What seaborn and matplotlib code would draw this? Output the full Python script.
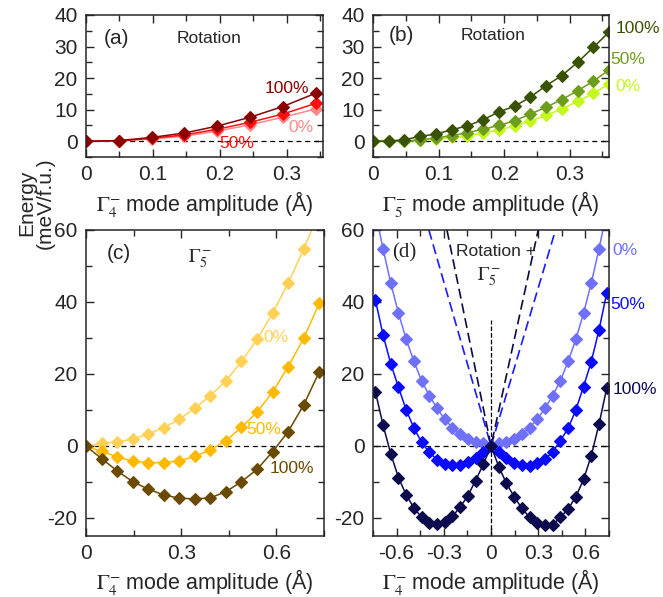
import numpy as np
import pandas as pd
import seaborn as sns
import matplotlib
matplotlib.use("Agg")
import matplotlib.pyplot as plt
from matplotlib.ticker import MultipleLocator, FuncFormatter

# ---- donnees ----
amp_a = [0, 0.049, 0.098, 0.147, 0.196, 0.245, 0.294, 0.343]
rot4_0 = [0, 0.1, 0.7, 1.6, 3.2, 5.2, 7.6, 10.2]
rot4_50 = [0, 0.1, 0.9, 2.0, 3.8, 6.0, 8.6, 12.0]
rot4_100 = [0, 0.2, 1.2, 2.6, 4.8, 7.6, 11.0, 15.2]

amp_b = [0, 0.024, 0.048, 0.072, 0.096, 0.12, 0.144, 0.168,
         0.192, 0.216, 0.24, 0.264, 0.288, 0.312, 0.336, 0.36]
rot5_0 = [0, 0, 0, 0.3, 0.7, 1.2, 1.8, 2.6, 3.6, 4.8, 6.4, 8.2, 10.2, 12.6, 15.2, 18.2]
rot5_50 = [0, 0, 0, 0.5, 1.0, 1.8, 2.7, 3.8, 5.0, 6.5, 8.6, 10.8, 13.2, 16.0, 19.0, 22.6]
rot5_100 = [0, 0, 0.5, 1.5, 2.3, 3.6, 4.9, 6.8, 9.3, 11.1, 14.0, 17.6, 20.8, 25.0, 29.7, 34.6]

amp_c = [0, 0.049, 0.098, 0.147, 0.196, 0.245, 0.294, 0.343,
         0.392, 0.441, 0.49, 0.539, 0.588, 0.637, 0.686, 0.735]
g5_0 = [0, 0.7, 1.2, 1.9, 3.3, 5.1, 7.4, 10.5, 14.0, 18.1, 23.5, 29.6, 36.9, 45.2, 54.7, 65.0]
g5_50 = [0, -1.5, -3.0, -4.2, -4.6, -4.6, -4.1, -2.9, -1.1, 1.5, 5.2, 9.4, 15.0, 22.0, 29.9, 39.6]
g5_100 = [0, -3.5, -6.9, -9.9, -12.0, -13.6, -14.5, -14.7, -14.4, -12.7, -9.9, -6.5, -1.6, 4.0, 11.4, 20.6]

# panneau (d) : cote negatif (du centre vers l'exterieur) et cote positif
mix_0_neg = [0, 0.7, 1.2, 1.9, 3.3, 5.1, 7.4, 10.5, 14.0, 18.1, 23.5, 29.6, 36.9, 45.2, 54.7, 65.0]
mix_0_pos = [0, 0.7, 1.2, 1.9, 3.3, 5.1, 7.4, 10.5, 14.0, 18.1, 23.5, 29.6, 36.9, 45.2, 54.7, 65.0]
mix_50_neg = [0, -1.6, -3.2, -4.4, -5.2, -5.3, -5.0, -3.8, -1.8, 1.0, 5.0, 10.0, 16.3, 22.8, 30.8, 40.6]
mix_50_pos = [0, -1.6, -3.4, -4.8, -5.3, -5.5, -4.8, -3.7, -1.6, 1.5, 4.9, 10.0, 16.5, 23.4, 32.2, 42.4]
mix_100_neg = [0, -5.1, -9.6, -13.8, -17.0, -19.5, -21.1, -21.6, -21.3, -19.8, -17.2, -13.6, -8.8, -2.2, 5.8, 15.1]
mix_100_pos = [0, -5.7, -10.4, -14.1, -17.3, -19.8, -21.5, -22.0, -21.9, -19.8, -17.5, -14.1, -9.3, -2.7, 6.0, 16.0]

dash_navy_x = [-0.28, 0, 0.30]
dash_navy_y = [60, 0, 60]
dash_blue_x = [-0.395, 0, 0.41]
dash_blue_y = [60, 0, 60]
vline_y = [-25, 35]

amp_d = [-a for a in reversed(amp_c[1:])] + amp_c


def both_sides(neg, pos):
    return list(reversed(neg[1:])) + pos


sns.set_style("ticks")
plt.rcParams['font.family'] = ['Liberation Sans', 'DejaVu Sans']
plt.rcParams['mathtext.fontset'] = 'stix'
plt.rcParams['axes.unicode_minus'] = False
plt.rcParams['axes.linewidth'] = 1.1

fig = plt.figure(figsize=(6.63, 5.97), dpi=100)
ax_a = fig.add_axes([0.1297, 0.7370, 0.3575, 0.2379])
ax_b = fig.add_axes([0.5626, 0.7370, 0.3560, 0.2379])
ax_c = fig.add_axes([0.1297, 0.1022, 0.3590, 0.5126])
ax_d = fig.add_axes([0.5626, 0.1022, 0.3560, 0.5126])

fmt = FuncFormatter(lambda v, p: f"{v:g}")
FS_TICK = 15
FS_LAB = 15.5
FS_TXT = 12.5


def trace(ax, x, y, c):
    sns.lineplot(x=x, y=y, ax=ax, color=c, marker='D', markersize=5.8,
                 markeredgecolor=c, markeredgewidth=0.8, lw=1.1, sort=False)


def habille(ax, xlim, ylim, xmaj, ymaj, xlabel):
    ax.set_xlim(xlim)
    ax.set_ylim(ylim)
    ax.xaxis.set_major_locator(MultipleLocator(xmaj))
    ax.xaxis.set_minor_locator(MultipleLocator(xmaj / 2))
    ax.yaxis.set_major_locator(MultipleLocator(ymaj))
    ax.yaxis.set_minor_locator(MultipleLocator(ymaj / 2))
    ax.xaxis.set_major_formatter(fmt)
    ax.yaxis.set_major_formatter(fmt)
    ax.tick_params(which='both', direction='in', top=True, right=True,
                   labelsize=FS_TICK, width=1.0)
    ax.tick_params(which='major', length=6, pad=6)
    ax.tick_params(which='minor', length=4)
    ax.axhline(0, color='k', ls='--', lw=0.9, dashes=(4, 3), zorder=1)
    ax.set_xlabel(xlabel, fontsize=FS_LAB, labelpad=3)
    ax.set_ylabel("")


xl4 = r"$\Gamma_4^{\!-}\,$mode amplitude (Å)"
xl5 = r"$\Gamma_5^{\!-}\,$mode amplitude (Å)"

# (a)
trace(ax_a, amp_a, rot4_0, '#ff8a8a')
trace(ax_a, amp_a, rot4_50, '#ff1010')
trace(ax_a, amp_a, rot4_100, '#8b0000')
habille(ax_a, (0, 0.354), (-5, 40), 0.1, 10, xl4)
ax_a.text(0.045, 32.5, "(a)", fontsize=15, ha='center', va='center')
ax_a.text(0.184, 32.5, "Rotation", fontsize=FS_TXT, ha='center', va='center')
ax_a.text(0.300, 16.7, "100%", color='#8b0000', fontsize=FS_TXT, ha='center', va='center')
ax_a.text(0.321, 4.4, "0%", color='#ff8a8a', fontsize=FS_TXT, ha='center', va='center')
ax_a.text(0.225, -0.6, "50%", color='#ff1010', fontsize=FS_TXT, ha='center', va='center')

# (b)
trace(ax_b, amp_b, rot5_0, '#c4f81e')
trace(ax_b, amp_b, rot5_50, '#6e9c1c')
trace(ax_b, amp_b, rot5_100, '#385200')
habille(ax_b, (0, 0.36), (-5, 40), 0.1, 10, xl5)
ax_b.text(0.044, 33.4, "(b)", fontsize=15, ha='center', va='center')
ax_b.text(0.183, 33.4, "Rotation", fontsize=FS_TXT, ha='center', va='center')
ax_b.text(0.370, 35.6, "100%", color='#385200', fontsize=FS_TXT, ha='left', va='center', clip_on=False)
ax_b.text(0.362, 25.8, "50%", color='#6e9c1c', fontsize=FS_TXT, ha='left', va='center', clip_on=False)
ax_b.text(0.370, 17.3, "0%", color='#c4f81e', fontsize=FS_TXT, ha='left', va='center', clip_on=False)

# (c)
trace(ax_c, amp_c, g5_0, '#ffd257')
trace(ax_c, amp_c, g5_50, '#ffba00')
trace(ax_c, amp_c, g5_100, '#6a4a00')
habille(ax_c, (0, 0.75), (-25, 60), 0.3, 20, xl4)
ax_c.text(0.104, 53.6, "(c)", fontsize=15, ha='center', va='center')
ax_c.text(0.36, 52.0, r"$\Gamma_5^-$", fontsize=14, ha='center', va='center')
ax_c.text(0.60, 30.2, "0%", color='#ffd257', fontsize=FS_TXT, ha='center', va='center')
ax_c.text(0.561, 4.7, "50%", color='#ffba00', fontsize=FS_TXT, ha='center', va='center')
ax_c.text(0.648, -6.2, "100%", color='#6a4a00', fontsize=FS_TXT, ha='center', va='center')

# (d)
ax_d.vlines(0, vline_y[0], vline_y[1], color='k', ls='--', lw=0.9, zorder=1)
sns.lineplot(x=dash_blue_x, y=dash_blue_y, ax=ax_d, color='#1a1aff', lw=1.2,
             sort=False, dashes=False, linestyle=(0, (6, 3)))
sns.lineplot(x=dash_navy_x, y=dash_navy_y, ax=ax_d, color='#0b0b45', lw=1.2,
             sort=False, dashes=False, linestyle=(0, (6, 3)))
trace(ax_d, amp_d, both_sides(mix_0_neg, mix_0_pos), '#7070ff')
trace(ax_d, amp_d, both_sides(mix_50_neg, mix_50_pos), '#0a0aff')
trace(ax_d, amp_d, both_sides(mix_100_neg, mix_100_pos), '#0b0b4d')
habille(ax_d, (-0.75, 0.75), (-25, 60), 0.3, 20, xl4)
ax_d.text(-0.55, 53.6, "(d)", fontsize=15, ha='center', va='center', family='Liberation Serif')
ax_d.text(0.03, 54.0, "Rotation +", fontsize=FS_TXT, ha='center', va='center')
ax_d.text(-0.01, 47.0, r"$\Gamma_5^-$", fontsize=14, ha='center', va='center')
ax_d.text(0.773, 54.2, "0%", color='#7070ff', fontsize=FS_TXT, ha='left', va='center', clip_on=False)
ax_d.text(0.760, 39.4, "50%", color='#0a0aff', fontsize=FS_TXT, ha='left', va='center', clip_on=False)
ax_d.text(0.776, 15.6, "100%", color='#0b0b4d', fontsize=FS_TXT, ha='left', va='center', clip_on=False)

fig.text(0.054, 1 - 203 / 597, "Energy\n(meV/f.u.)", rotation=90, fontsize=15,
         ha='center', va='center', linespacing=0.95)

fig.savefig("out.png", dpi=100)
